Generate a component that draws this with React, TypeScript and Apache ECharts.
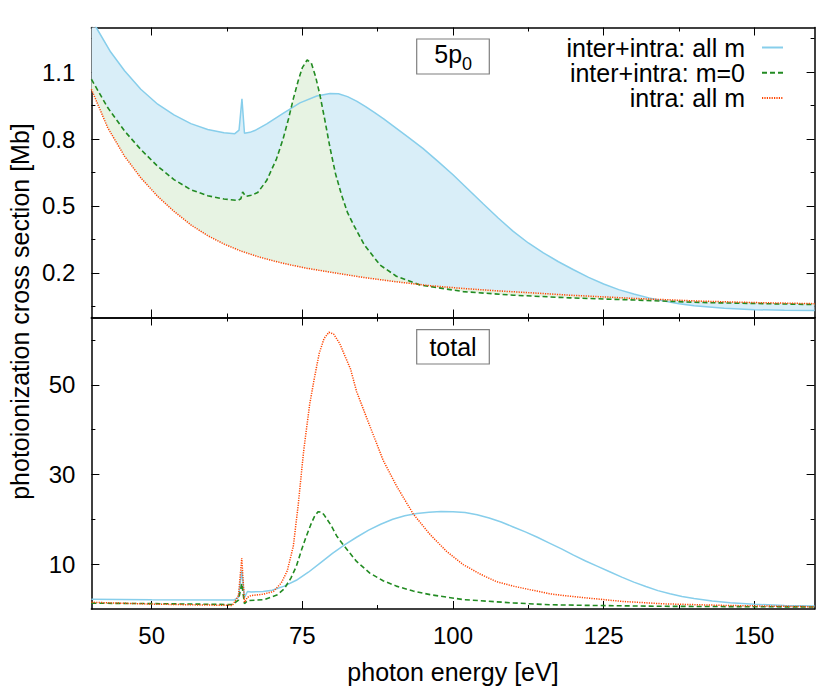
import React, { useEffect, useRef } from "react";
import * as echarts from "echarts";

const SERIES_NAMES = ["inter+intra: all m", "inter+intra: m=0", "intra: all m"];

const energyMajorTicks = [50, 75, 100, 125, 150];
const energyMinorTicks = [62.5, 87.5, 112.5, 137.5];
const subshellMajorTicks = [0.2, 0.5, 0.8, 1.1];
const subshellMinorTicks = [0.05, 0.35, 0.65, 0.95, 1.25];
const totalMajorTicks = [10, 30, 50];
const totalMinorTicks = [20, 40, 60];

// 5p0 panel: [photon energy (eV), cross section (Mb)]
const subshell_allM: number[][] = [
  [40, 1.34], [40.8, 1.3], [43.2, 1.19], [45.5, 1.106], [48.2, 1.023], [51, 0.956], [53.7, 0.908],
  [56.5, 0.869], [59.3, 0.843], [62, 0.828], [63.8, 0.824], [64.5, 0.84], [64.98, 0.98], [65.4, 0.826],
  [66.3, 0.83], [67.1, 0.838], [69.1, 0.868], [71.8, 0.915], [74.6, 0.962], [77.4, 0.993], [79.6, 1.004],
  [81, 1.003], [82.5, 0.99], [84, 0.97], [85.5, 0.945], [87, 0.918], [88.5, 0.89], [90, 0.86],
  [92.5, 0.81], [95, 0.758], [97.5, 0.7], [100, 0.64], [102.5, 0.575], [105, 0.51], [107.5, 0.446],
  [110, 0.386], [112.5, 0.334], [115, 0.29], [117.5, 0.25], [120, 0.214], [122.5, 0.18], [125, 0.15],
  [127.5, 0.125], [130, 0.105], [132.5, 0.088], [135, 0.074], [137.5, 0.062], [140, 0.053],
  [145, 0.041], [150, 0.035], [155, 0.032], [160, 0.031],
];
const subshell_m0: number[][] = [
  [40, 1.068], [42.7, 0.941], [45.5, 0.836], [48.2, 0.753], [51, 0.678], [53.7, 0.618], [56.5, 0.573],
  [59.3, 0.546], [62, 0.531], [64.3, 0.525], [64.8, 0.532], [65.1, 0.563], [65.6, 0.543], [66.5, 0.548],
  [67.6, 0.56], [69.1, 0.615], [70.7, 0.71], [71.8, 0.8], [72.7, 0.89], [73.5, 0.98], [74.3, 1.06],
  [75, 1.12], [75.8, 1.155], [76.5, 1.14], [77.2, 1.08], [77.9, 1.0], [78.7, 0.89], [79.6, 0.76],
  [80.5, 0.645], [81.5, 0.55], [82.5, 0.47], [83.5, 0.415], [85.3, 0.325], [87.9, 0.235], [90.6, 0.185],
  [94.5, 0.146], [101.7, 0.116], [110, 0.1], [119.4, 0.088], [130.5, 0.078], [141.5, 0.067], [160, 0.058],
];
const subshell_intra: number[][] = [
  [40, 1.023], [42.7, 0.851], [45.5, 0.723], [48.2, 0.626], [51, 0.543], [53.7, 0.476], [56.5, 0.415],
  [59.3, 0.367], [62.1, 0.328], [64.8, 0.298], [67.6, 0.273], [70.3, 0.253], [73.1, 0.235], [75.9, 0.22],
  [79.7, 0.203], [85, 0.18], [90.6, 0.16], [96, 0.143], [101.7, 0.13], [107, 0.12], [112.8, 0.111],
  [119.4, 0.1], [130.5, 0.085], [141.5, 0.073], [150, 0.067], [160, 0.062],
];

// total panel
const total_allM: number[][] = [
  [40, 2.2], [50, 2.05], [63.6, 2.0], [64.4, 2.6], [64.95, 8.5], [65.4, 2.6], [65.9, 3.9], [66.5, 3.8],
  [68.5, 3.9], [70, 4.2], [72, 5.1], [74, 6.4], [76, 8.2], [78, 10.3], [80, 12.4], [82, 14.3], [84, 16.0],
  [86, 17.6], [88, 18.9], [90, 20.0], [92, 20.8], [94, 21.3], [96, 21.6], [98, 21.75], [100, 21.7],
  [102, 21.5], [104, 21.0], [106, 20.3], [108, 19.4], [110, 18.3], [112, 17.2], [114, 16.0], [116, 14.7],
  [118, 13.4], [120, 12.0], [122, 10.7], [124, 9.5], [126, 8.3], [128, 7.1], [130, 6.0], [132, 5.0],
  [134, 4.1], [136, 3.4], [138, 2.8], [140, 2.35], [143, 1.8], [146, 1.4], [150, 1.05], [155, 0.8],
  [160, 0.67],
];
const total_m0: number[][] = [
  [40, 1.3], [50, 1.2], [63.4, 1.0], [64.4, 2.0], [64.95, 5.7], [65.4, 1.2], [65.9, 1.85], [68.7, 2.1],
  [70.9, 3.2], [72, 4.5], [73.1, 6.9], [74, 9.5], [74.8, 12.9], [75.6, 16], [76.4, 18.8], [77, 20.6],
  [77.6, 21.7], [78.2, 21.6], [78.6, 21.0], [79.7, 18.8], [80.7, 16.3], [81.8, 14.3], [84, 10.6],
  [86.2, 8.0], [88.4, 6.3], [90.6, 5.1], [93.4, 4.0], [96.2, 3.2], [101.7, 2.1], [110, 1.35],
  [116, 0.95], [122.7, 0.8], [135, 0.6], [160, 0.45],
];
const total_intra: number[][] = [
  [40, 1.5], [50, 1.1], [58, 0.9], [63.4, 0.8], [64.4, 3.0], [64.95, 11.3], [65.4, 1.5], [65.9, 2.6],
  [66.5, 3.0], [68.5, 3.3], [70.2, 3.9], [71.5, 5.8], [72.5, 8.5], [73.5, 14], [74.3, 23], [75.2, 35],
  [76.2, 45.5], [77, 51.5], [77.8, 57], [78.6, 60.3], [79.4, 61.7], [80.2, 61.3], [81.2, 59.2],
  [82.2, 56], [83, 53.5], [84, 48.5], [86, 41.5], [88.4, 33.2], [90.6, 27.5], [93.4, 21.2], [96.2, 16.6],
  [98.9, 12.9], [101.7, 9.9], [104.5, 7.8], [107.2, 6.1], [110, 5.1], [112.8, 4.3], [116, 3.4],
  [118.3, 3.0], [122.7, 2.4], [128, 1.7], [135, 1.15], [145, 0.8], [160, 0.5],
];

const FONT = "'Liberation Sans', Arial, Helvetica, sans-serif";
const BLUE = "#87ceeb";
const GREEN = "#228b22";
const RED = "#ff4500";
const BLUE_FILL = "#d9eef8";
const GREEN_FILL = "#e7f3e3";

const axisLineStyle = { color: "#000", width: 1.5 };
const tickLineStyle = { color: "#000", width: 1 };

function xAxesFor(grid: number, withLabels: boolean) {
  const base = { type: "value", gridIndex: grid, min: 40, max: 160, splitLine: { show: false } };
  const major = (position: string, labels: boolean) => ({
    ...base,
    position,
    axisLine: { show: true, onZero: false, lineStyle: axisLineStyle },
    axisTick: { show: true, inside: true, length: 8, customValues: energyMajorTicks, lineStyle: tickLineStyle },
    axisLabel: labels
      ? { show: true, customValues: energyMajorTicks, margin: 14, fontSize: 24, color: "#000", fontFamily: FONT }
      : { show: false },
    ...(labels
      ? {
          name: "photon energy [eV]",
          nameLocation: "middle",
          nameGap: 50,
          nameTextStyle: { fontSize: 25, color: "#000", fontFamily: FONT },
        }
      : {}),
  });
  const minor = (position: string) => ({
    ...base,
    position,
    axisLine: { show: false, onZero: false },
    axisTick: { show: true, inside: true, length: 4, customValues: energyMinorTicks, lineStyle: tickLineStyle },
    axisLabel: { show: false },
  });
  return [major("bottom", withLabels), minor("bottom"), major("top", false), minor("top")];
}

function yAxesFor(grid: number, min: number, max: number, majorTicks: number[], minorTicks: number[]) {
  const base = { type: "value", gridIndex: grid, min, max, splitLine: { show: false } };
  const major = (position: string, labels: boolean) => ({
    ...base,
    position,
    axisLine: { show: true, onZero: false, lineStyle: axisLineStyle },
    axisTick: { show: true, inside: true, length: 8, customValues: majorTicks, lineStyle: tickLineStyle },
    axisLabel: labels
      ? { show: true, customValues: majorTicks, margin: 16, fontSize: 24, color: "#000", fontFamily: FONT }
      : { show: false },
  });
  const minor = (position: string) => ({
    ...base,
    position,
    axisLine: { show: false, onZero: false },
    axisTick: { show: true, inside: true, length: 4, customValues: minorTicks, lineStyle: tickLineStyle },
    axisLabel: { show: false },
  });
  return [major("left", true), minor("left"), major("right", false), minor("right")];
}

function fillBetween(upper: number[][], lower: number[][], color: string, axisIndex: number) {
  return {
    type: "custom",
    xAxisIndex: axisIndex,
    yAxisIndex: axisIndex,
    silent: true,
    z: 1,
    data: [upper[0]],
    encode: { x: 0, y: 1 },
    renderItem: (params: any, api: any) => {
      if (params.dataIndex !== 0) return null;
      const pts = upper.map((p) => api.coord(p)).concat(lower.slice().reverse().map((p) => api.coord(p)));
      const cs = params.coordSys;
      return {
        type: "polygon",
        shape: { points: pts },
        style: { fill: color, stroke: "none" },
        clipPath: { type: "rect", shape: { x: cs.x, y: cs.y, width: cs.width, height: cs.height } },
      };
    },
  };
}

function lineSeries(name: string, data: number[][], axisIndex: number, color: string, type: any, width: number) {
  return {
    type: "line",
    name,
    data,
    xAxisIndex: axisIndex,
    yAxisIndex: axisIndex,
    symbol: "none",
    showSymbol: false,
    smooth: false,
    z: 3,
    lineStyle: { color, width, type },
    itemStyle: { color },
  };
}

function panelLabel(parts: any[], rectY: number, rectH: number) {
  return {
    type: "group",
    children: [
      {
        type: "rect",
        shape: { x: 416.7, y: rectY, width: 72.6, height: rectH },
        style: { fill: "#fff", stroke: "#7f7f7f", lineWidth: 1.2 },
        z: 10,
      },
      ...parts.map((p) => ({
        type: "text",
        x: p.x,
        y: p.y,
        z: 11,
        style: {
          text: p.text,
          fontSize: p.size,
          fontFamily: FONT,
          fill: "#000",
          align: p.align || "left",
          verticalAlign: "middle",
        },
      })),
    ],
  };
}

export default function App() {
  const ref = useRef<HTMLDivElement>(null);
  useEffect(() => {
    if (!ref.current) return;
    const chart = echarts.init(ref.current, null, { renderer: "svg" });
    const option: any = {
      animation: false,
      backgroundColor: "#fff",
      textStyle: { fontFamily: FONT },
      grid: [
        { left: 91.4, right: 15.4, top: 27.5, height: 290, outerBoundsMode: "none" },
        { left: 91.4, right: 15.4, top: 317.5, height: 291.5, outerBoundsMode: "none" },
      ],
      xAxis: [...xAxesFor(0, false), ...xAxesFor(1, true)],
      yAxis: [
        ...yAxesFor(0, 0, 1.3, subshellMajorTicks, subshellMinorTicks),
        ...yAxesFor(1, 0, 65, totalMajorTicks, totalMinorTicks),
      ],
      legend: {
        data: SERIES_NAMES,
        orient: "vertical",
        align: "right",
        right: 46,
        top: 35,
        padding: 0,
        itemGap: 0.3,
        itemWidth: 21,
        itemHeight: 25,
        selectedMode: false,
        itemStyle: { opacity: 0, borderWidth: 0 },
        textStyle: { fontSize: 25, fontFamily: FONT, color: "#000", lineHeight: 25, padding: [0, 12, 0, 0] },
      },
      series: [
        fillBetween(subshell_allM, subshell_intra, BLUE_FILL, 0),
        fillBetween(subshell_m0, subshell_intra, GREEN_FILL, 0),
        lineSeries(SERIES_NAMES[0], subshell_allM, 0, BLUE, "solid", 1.5),
        lineSeries(SERIES_NAMES[1], subshell_m0, 0, GREEN, [5, 3], 1.6),
        lineSeries(SERIES_NAMES[2], subshell_intra, 0, RED, [1.2, 1.2], 1.5),
        lineSeries(SERIES_NAMES[0], total_allM, 4, BLUE, "solid", 1.5),
        lineSeries(SERIES_NAMES[1], total_m0, 4, GREEN, [5, 3], 1.6),
        lineSeries(SERIES_NAMES[2], total_intra, 4, RED, [1.2, 1.2], 1.5),
      ],
      graphic: [
        panelLabel(
          [
            { text: "5p", x: 434.3, y: 54.3, size: 25 },
            { text: "0", x: 462, y: 63.5, size: 18 },
          ],
          39,
          35
        ),
        panelLabel([{ text: "total", x: 453, y: 346.6, size: 25, align: "center" }], 329.7, 34.3),
        {
          type: "text",
          x: 20,
          y: 311.5,
          rotation: Math.PI / 2,
          style: {
            text: "photoionization cross section [Mb]",
            fontSize: 25,
            fontFamily: FONT,
            fill: "#000",
            align: "center",
            verticalAlign: "middle",
          },
        },
      ],
    };
    chart.setOption(option);
    return () => chart.dispose();
  }, []);
  return (
    <div
      ref={ref}
      style={{ position: "fixed", left: 0, top: 0, width: 830, height: 694, background: "#fff" }}
    />
  );
}
